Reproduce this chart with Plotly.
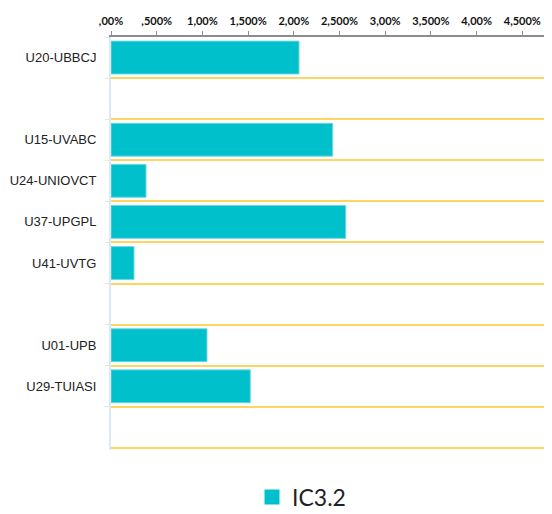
import plotly.graph_objects as go

categories = ["U20-UBBCJ", " ", "U15-UVABC", "U24-UNIOVCT", "U37-UPGPL", "U41-UVTG", "  ", "U01-UPB", "U29-TUIASI", "   "]
values = [0.02057, None, 0.02425, 0.00383, 0.02568, 0.00252, None, 0.0105, 0.01524, None]
tick_vals = [0.0, 0.005, 0.01, 0.015, 0.02, 0.025, 0.03, 0.035, 0.04, 0.045]
tick_text = [",00%", ",500%", "1,00%", "1,500%", "2,00%", "2,500%", "3,00%", "3,500%", "4,00%", "4,500%"]
series_name = "IC3.2"
bar_color = "#00C1CB"

n = len(categories)
y_range = [n - 0.45, -0.5]
boundaries = [i - 0.5 for i in range(n + 1)]

fig = go.Figure()
fig.add_trace(go.Bar(
    y=categories, x=values, orientation="h", name=series_name,
    marker=dict(color=bar_color, line=dict(color="#6ED8DD", width=1)),
    showlegend=False,
))
# empty helper trace carrying the boundary gridlines axis
fig.add_trace(go.Scatter(x=[None], y=[None], yaxis="y2", showlegend=False, hoverinfo="skip"))
# legend-only entry with a larger square symbol
fig.add_trace(go.Scatter(
    x=[None], y=[None], mode="markers", name=series_name,
    marker=dict(symbol="square", size=15, color=bar_color),
    showlegend=True,
))

fig.update_layout(
    width=544, height=506,
    margin=dict(l=103, r=0, t=29, b=64),
    paper_bgcolor="white", plot_bgcolor="white",
    bargap=0.2,
    showlegend=True,
    legend=dict(orientation="h", xref="container", x=244/544, xanchor="left",
                yref="container", y=(506-489)/506, yanchor="middle",
                font=dict(family="Lato, Open Sans, sans-serif", size=23, color="#222"),
                itemwidth=30, tracegroupgap=0),
    xaxis=dict(
        side="top", range=[0, 0.04825], tickvals=tick_vals, ticktext=tick_text,
        showgrid=False, zeroline=False, automargin=False,
        showline=True, linecolor="#8C8C8C", linewidth=1.5,
        ticks="outside", ticklen=4, tickcolor="#8C8C8C",
        ticklabelstandoff=2,
        tickfont=dict(family="Lato, Open Sans, sans-serif", size=11, color="#111", weight="bold"),
    ),
    yaxis=dict(
        type="category", categoryorder="array", categoryarray=categories,
        range=y_range, tickson="boundaries", automargin=False,
        showgrid=False,
        showline=True, linecolor="#DDE8F0", linewidth=2,
        ticks="outside", ticklen=4, tickcolor="#DDE8F0",
        tickfont=dict(family="Liberation Sans, Arial, sans-serif", size=13, color="#222"),
        ticklabelstandoff=10,
    ),
    yaxis2=dict(
        overlaying="y", side="left", range=y_range, tickvals=boundaries,
        showticklabels=False, ticks="", showline=False, zeroline=False,
        showgrid=True, gridcolor="#FFD460", gridwidth=1.5, automargin=False,
    ),
)

fig.write_html("out.html")
